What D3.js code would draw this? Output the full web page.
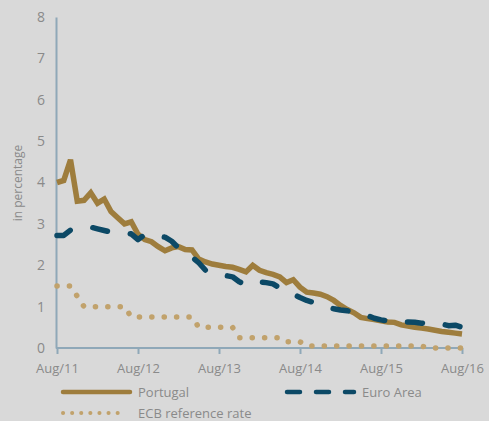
<!DOCTYPE html>
<html>
<head>
<meta charset="utf-8">
<script src="https://cdn.jsdelivr.net/npm/d3@7.9.0/dist/d3.min.js"></script>
<style>
  body { margin: 0; background: #d9d9d9; }
  svg { display: block; font-family: "Open Sans", sans-serif; }
</style>
</head>
<body>
<svg id="chart" width="489" height="421"></svg>
<script>
// monthly, Aug/11 .. Aug/16
const portugal = [
  4.0, 4.05, 4.55, 3.55, 3.57, 3.75, 3.5, 3.6, 3.3, 3.15, 3.0, 3.05,
  2.75, 2.62, 2.57, 2.45, 2.35, 2.42, 2.45, 2.38, 2.37, 2.15, 2.08, 2.03,
  2.0, 1.97, 1.95, 1.9, 1.84, 2.0, 1.88, 1.82, 1.78, 1.72, 1.58, 1.65,
  1.47, 1.35, 1.33, 1.3, 1.24, 1.15, 1.03, 0.93, 0.85, 0.74, 0.71, 0.69,
  0.66, 0.63, 0.62, 0.56, 0.53, 0.5, 0.48, 0.46, 0.43, 0.4, 0.38, 0.36, 0.34
];
const euroArea = [
  2.72, 2.72, 2.85, 2.87, 2.9, 2.92, 2.88, 2.84, 2.8, 2.78, 2.77, 2.76,
  2.62, 2.74, 2.72, 2.7, 2.68, 2.58, 2.42, 2.3, 2.2, 2.06, 1.88, 1.85,
  1.8, 1.75, 1.72, 1.6, 1.53, 1.6, 1.6, 1.58, 1.55, 1.45, 1.37, 1.3,
  1.22, 1.15, 1.1, 1.07, 1.0, 0.95, 0.92, 0.9, 0.87, 0.84, 0.78, 0.72,
  0.68, 0.65, 0.63, 0.63, 0.63, 0.62, 0.6, 0.58, 0.57, 0.58, 0.54, 0.55, 0.5
];
const ecbRate = [
  1.5, 1.5, 1.5, 1.25, 1.0, 1.0, 1.0, 1.0, 1.0, 1.0, 1.0, 0.75,
  0.75, 0.75, 0.75, 0.75, 0.75, 0.75, 0.75, 0.75, 0.75, 0.5, 0.5, 0.5,
  0.5, 0.5, 0.5, 0.25, 0.25, 0.25, 0.25, 0.25, 0.25, 0.25, 0.15, 0.15,
  0.15, 0.05, 0.05, 0.05, 0.05, 0.05, 0.05, 0.05, 0.05, 0.05, 0.05, 0.05,
  0.05, 0.05, 0.05, 0.05, 0.05, 0.05, 0.05, 0, 0, 0, 0, 0, 0
];
const xTickLabels = ['Aug/11', 'Aug/12', 'Aug/13', 'Aug/14', 'Aug/15', 'Aug/16'];
const yTicks = [0, 1, 2, 3, 4, 5, 6, 7, 8];

const svg = d3.select('#chart');
const axisColor = '#8fa8b8';
const textColor = '#8a8a8a';
const colPortugal = '#9e7d3d';
const colEuro = '#0c4966';
const colEcb = '#c1a26c';

let x = d3.scaleLinear().domain([0, 60]).range([57, 462]);
let y = d3.scaleLinear().domain([0, 8]).range([348, 17]);

// y axis: line only
let yAxis = svg.append('g').attr('transform', 'translate(56,0)')
  .call(d3.axisLeft(y).tickValues(yTicks).tickSize(0).tickPadding(11));
yAxis.select('.domain').attr('stroke', axisColor).attr('stroke-width', 2);
yAxis.selectAll('text').attr('fill', textColor).style('font-size', '14px')
  .style('font-family', '"Open Sans", sans-serif');

// x axis
let xAxis = svg.append('g').attr('transform', 'translate(0,348)')
  .call(d3.axisBottom(x).tickValues([0, 12, 24, 36, 48, 60])
    .tickFormat((d, i) => xTickLabels[i]).tickSizeOuter(0).tickSizeInner(6).tickPadding(10));
xAxis.select('.domain').attr('stroke', axisColor).attr('stroke-width', 2)
  .attr('d', `M56,0H${x(60)}`);
xAxis.selectAll('line').attr('stroke', axisColor).attr('stroke-width', 2);
xAxis.selectAll('text').attr('fill', textColor).style('font-size', '13px')
  .style('font-family', '"Open Sans", sans-serif');

svg.append('text')
  .attr('transform', 'translate(22,183) rotate(-90)')
  .attr('text-anchor', 'middle')
  .attr('fill', textColor)
  .style('font-size', '12px')
  .text('in percentage');

let line = d3.line().x((d, i) => x(i)).y(d => y(d));

svg.append('path').datum(ecbRate)
  .attr('d', line).attr('fill', 'none')
  .attr('stroke', colEcb).attr('stroke-width', 5.5)
  .attr('stroke-linecap', 'round').attr('stroke-dasharray', '0.1,12.3');

svg.append('path').datum(portugal)
  .attr('d', line).attr('fill', 'none')
  .attr('stroke', colPortugal).attr('stroke-width', 5.5)
  .attr('stroke-linejoin', 'miter');

svg.append('path').datum(euroArea)
  .attr('d', line).attr('fill', 'none')
  .attr('stroke', colEuro).attr('stroke-width', 5.5)
  .attr('stroke-linecap', 'round').attr('stroke-linejoin', 'round')
  .attr('stroke-dasharray', '15,23');

// legend
let legend = svg.append('g').style('font-size', '13px');
legend.append('line').attr('x1', 63).attr('x2', 130).attr('y1', 392).attr('y2', 392)
  .attr('stroke', colPortugal).attr('stroke-width', 4.5).attr('stroke-linecap', 'round');
legend.append('text').attr('x', 138).attr('y', 396.5).attr('fill', textColor).text('Portugal');

legend.append('line').attr('x1', 287).attr('x2', 354).attr('y1', 392).attr('y2', 392)
  .attr('stroke', colEuro).attr('stroke-width', 4.5).attr('stroke-linecap', 'round')
  .attr('stroke-dasharray', '13,16');
legend.append('text').attr('x', 362).attr('y', 396.5).attr('fill', textColor).text('Euro Area');

legend.append('line').attr('x1', 63).attr('x2', 126).attr('y1', 413).attr('y2', 413)
  .attr('stroke', colEcb).attr('stroke-width', 4).attr('stroke-linecap', 'round')
  .attr('stroke-dasharray', '0.1,9');
legend.append('text').attr('x', 138).attr('y', 417.5).attr('fill', textColor).text('ECB reference rate');
</script>
</body>
</html>
